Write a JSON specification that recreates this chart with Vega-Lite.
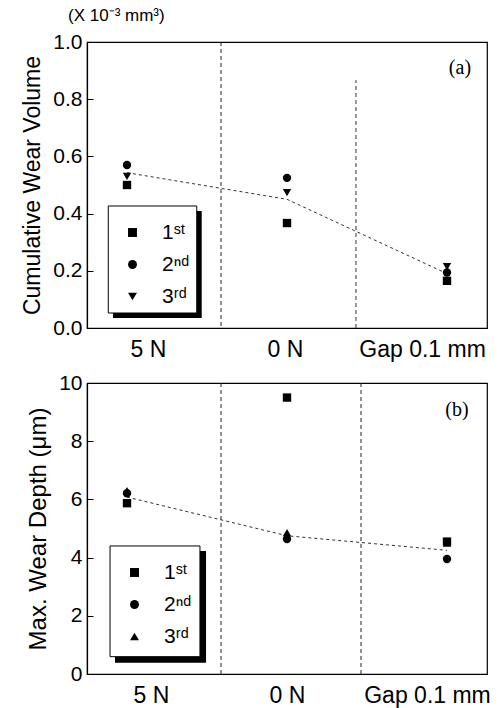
{
  "$schema": "https://vega.github.io/schema/vega-lite/v6.json",
  "background": "white",
  "padding": {"left": 21, "top": 6, "right": 6, "bottom": 4},
  "bounds": "flush",
  "spacing": 55,
  "resolve": {"scale": {"shape": "independent", "x": "independent", "y": "independent"}, "legend": {"shape": "independent"}},
  "config": {
    "font": "Liberation Sans",
    "view": {"stroke": "black", "strokeWidth": 1.2},
    "axis": {"domainColor": "black", "domainWidth": 1.2, "labelColor": "black", "titleColor": "black", "titleFontWeight": "normal", "grid": false, "tickColor": "black"},
    "legend": {"orient": "none", "zindex": 2, "padding": 0, "symbolSize": 80, "labelFontSize": 21, "labelColor": "black", "labelOffset": 19, "rowPadding": 10, "symbolFillColor": "black", "symbolStrokeColor": "black", "symbolStrokeWidth": 0}
  },
  "datasets": {
    "one": [{}],
    "volume": [
      {"cond": "5 N", "i": 1, "run": "1st", "v": 0.50},
      {"cond": "5 N", "i": 1, "run": "2nd", "v": 0.57},
      {"cond": "5 N", "i": 1, "run": "3rd", "v": 0.53},
      {"cond": "0 N", "i": 2, "run": "1st", "v": 0.367},
      {"cond": "0 N", "i": 2, "run": "2nd", "v": 0.525},
      {"cond": "0 N", "i": 2, "run": "3rd", "v": 0.473},
      {"cond": "Gap 0.1 mm", "i": 3, "run": "1st", "v": 0.165},
      {"cond": "Gap 0.1 mm", "i": 3, "run": "2nd", "v": 0.194},
      {"cond": "Gap 0.1 mm", "i": 3, "run": "3rd", "v": 0.215}
    ],
    "volumeTrend": [
      {"cond": "5 N", "i": 1, "v": 0.543},
      {"cond": "0 N", "i": 2, "v": 0.45},
      {"cond": "Gap 0.1 mm", "i": 3, "v": 0.19}
    ],
    "depth": [
      {"cond": "5 N", "i": 1, "run": "1st", "v": 5.87},
      {"cond": "5 N", "i": 1, "run": "2nd", "v": 6.21},
      {"cond": "5 N", "i": 1, "run": "3rd", "v": 6.3},
      {"cond": "0 N", "i": 2, "run": "1st", "v": 9.5},
      {"cond": "0 N", "i": 2, "run": "2nd", "v": 4.64},
      {"cond": "0 N", "i": 2, "run": "3rd", "v": 4.86},
      {"cond": "Gap 0.1 mm", "i": 3, "run": "1st", "v": 4.55},
      {"cond": "Gap 0.1 mm", "i": 3, "run": "2nd", "v": 3.95},
      {"cond": "Gap 0.1 mm", "i": 3, "run": "3rd", "v": 4.5}
    ],
    "depthTrend": [
      {"cond": "5 N", "i": 1, "v": 6.08},
      {"cond": "0 N", "i": 2, "v": 4.75},
      {"cond": "Gap 0.1 mm", "i": 3, "v": 4.25}
    ]
  },
  "vconcat": [
    {
      "width": 400,
      "height": 286,
      "title": {"text": "(X 10⁻³ mm³)", "anchor": "start", "frame": "group", "fontSize": 17, "fontWeight": "normal", "color": "black", "dx": -19, "offset": 6},
      "layer": [
        {
          "data": {"name": "one"},
          "mark": {"type": "rule", "strokeDash": [4, 3], "color": "#222", "strokeWidth": 1},
          "encoding": {"x": {"datum": 1.5875, "type": "quantitative", "scale": {"domain": [0.75, 3.25], "padding": 0, "nice": false, "zero": false}}}
        },
        {
          "data": {"name": "one"},
          "mark": {"type": "rule", "strokeDash": [4, 3], "color": "#333", "strokeWidth": 1},
          "encoding": {"x": {"datum": 2.431, "type": "quantitative"}, "y": {"datum": 0, "type": "quantitative"}, "y2": {"datum": 0.867}}
        },
        {
          "data": {"name": "one"},
          "mark": {"type": "rect", "color": "black"},
          "encoding": {"x": {"datum": 0.9125, "type": "quantitative"}, "x2": {"datum": 1.467}, "y": {"datum": 0.409, "type": "quantitative"}, "y2": {"datum": 0.035}}
        },
        {
          "data": {"name": "one"},
          "mark": {"type": "rect", "fill": "white", "stroke": "black", "strokeWidth": 1},
          "encoding": {"x": {"datum": 0.883, "type": "quantitative"}, "x2": {"datum": 1.436}, "y": {"datum": 0.4266, "type": "quantitative"}, "y2": {"datum": 0.0524}}
        },
        {
          "data": {"name": "volumeTrend"},
          "mark": {"type": "line", "strokeDash": [3, 3], "color": "#333", "strokeWidth": 1},
          "encoding": {"x": {"field": "i", "type": "quantitative"}, "y": {"field": "v", "type": "quantitative"}}
        },
        {
          "data": {"name": "volume"},
          "mark": {"type": "point", "filled": true, "color": "black", "opacity": 1, "size": 70},
          "encoding": {
            "x": {"field": "i", "type": "quantitative", "scale": {"domain": [0.75, 3.25], "padding": 0, "nice": false, "zero": false},
              "axis": {"title": null, "values": [1.131, 1.9875, 2.844], "ticks": false, "labelFontSize": 23, "labelPadding": 10, "labelExpr": "datum.value < 1.5 ? '5 N' : datum.value < 2.5 ? '0 N' : 'Gap 0.1 mm'"}},
            "y": {"field": "v", "type": "quantitative", "scale": {"domain": [0, 1], "nice": false},
              "axis": {"title": "Cumulative Wear Volume", "titleFontSize": 23, "titlePadding": 8, "labelFontSize": 21, "labelPadding": 11,
                "values": [0, 0.1, 0.2, 0.3, 0.4, 0.5, 0.6, 0.7, 0.8, 0.9, 1.0],
                "labelExpr": "round(datum.value*10) % 2 == 1 ? '' : format(datum.value, '.1f')",
                "tickSize": -6}},
            "shape": {"field": "run", "type": "nominal",
              "scale": {"domain": ["1st", "2nd", "3rd"], "range": ["square", "circle", "triangle-down"]},
              "legend": {"title": null, "legendX": 35, "legendY": 180, "labelExpr": "datum.value == '1st' ? '1ˢᵗ' : datum.value == '2nd' ? '2ⁿᵈ' : '3ʳᵈ'"}}
          }
        },
        {
          "data": {"name": "one"},
          "mark": {"type": "text", "font": "Liberation Serif", "fontSize": 20, "color": "black"},
          "encoding": {"x": {"datum": 3.081, "type": "quantitative"}, "y": {"datum": 0.909, "type": "quantitative"}, "text": {"value": "(a)"}}
        }
      ]
    },
    {
      "width": 400,
      "height": 291,
      "layer": [
        {
          "data": {"name": "one"},
          "mark": {"type": "rule", "strokeDash": [4, 3], "color": "#222", "strokeWidth": 1},
          "encoding": {"x": {"datum": 1.5875, "type": "quantitative", "scale": {"domain": [0.75, 3.25], "padding": 0, "nice": false, "zero": false}}}
        },
        {
          "data": {"name": "one"},
          "mark": {"type": "rule", "strokeDash": [4, 3], "color": "#222", "strokeWidth": 1},
          "encoding": {"x": {"datum": 2.4625, "type": "quantitative"}}
        },
        {
          "data": {"name": "one"},
          "mark": {"type": "rect", "color": "black"},
          "encoding": {"x": {"datum": 0.925, "type": "quantitative"}, "x2": {"datum": 1.494}, "y": {"datum": 4.23, "type": "quantitative"}, "y2": {"datum": 0.39}}
        },
        {
          "data": {"name": "one"},
          "mark": {"type": "rect", "fill": "white", "stroke": "black", "strokeWidth": 1},
          "encoding": {"x": {"datum": 0.894, "type": "quantitative"}, "x2": {"datum": 1.456}, "y": {"datum": 4.4, "type": "quantitative"}, "y2": {"datum": 0.595}}
        },
        {
          "data": {"name": "depthTrend"},
          "mark": {"type": "line", "strokeDash": [3, 3], "color": "#333", "strokeWidth": 1},
          "encoding": {"x": {"field": "i", "type": "quantitative"}, "y": {"field": "v", "type": "quantitative"}}
        },
        {
          "data": {"name": "depth"},
          "mark": {"type": "point", "filled": true, "color": "black", "opacity": 1, "size": 70},
          "encoding": {
            "x": {"field": "i", "type": "quantitative", "scale": {"domain": [0.75, 3.25], "padding": 0, "nice": false, "zero": false},
              "axis": {"title": null, "values": [1.15, 2.0, 2.875], "ticks": false, "labelFontSize": 23, "labelPadding": 10, "labelExpr": "datum.value < 1.5 ? '5 N' : datum.value < 2.5 ? '0 N' : 'Gap 0.1 mm'"}},
            "y": {"field": "v", "type": "quantitative", "scale": {"domain": [0, 10], "nice": false},
              "axis": {"title": "Max. Wear Depth (μm)", "titleFontSize": 24, "titlePadding": 8, "labelFontSize": 21, "labelPadding": 11,
                "values": [0, 1, 2, 3, 4, 5, 6, 7, 8, 9, 10],
                "labelExpr": "datum.value % 2 == 1 ? '' : format(datum.value, 'd')",
                "tickSize": -6}},
            "shape": {"field": "run", "type": "nominal",
              "scale": {"domain": ["1st", "2nd", "3rd"], "range": ["square", "circle", "triangle-up"]},
              "legend": {"title": null, "legendX": 37, "legendY": 179, "labelExpr": "datum.value == '1st' ? '1ˢᵗ' : datum.value == '2nd' ? '2ⁿᵈ' : '3ʳᵈ'"}}
          }
        },
        {
          "data": {"name": "one"},
          "mark": {"type": "text", "font": "Liberation Serif", "fontSize": 20, "color": "black"},
          "encoding": {"x": {"datum": 3.0625, "type": "quantitative"}, "y": {"datum": 9.07, "type": "quantitative"}, "text": {"value": "(b)"}}
        }
      ]
    }
  ]
}
